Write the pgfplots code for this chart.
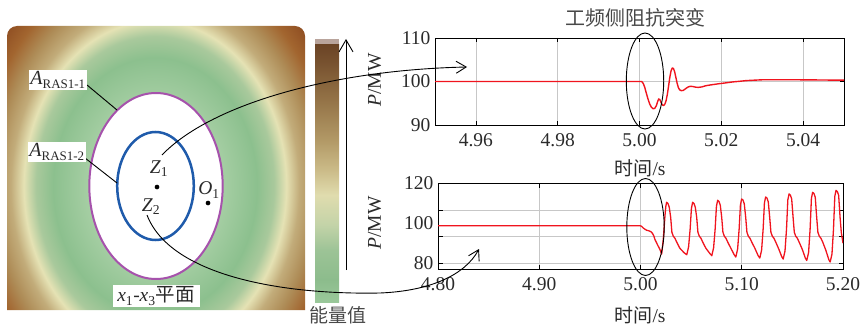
\documentclass[border=0pt]{standalone}
\usepackage{fontspec}
\setmainfont{Liberation Serif}
\newfontfamily\cjk{Noto Sans CJK SC}
\usepackage{pgfplots}
\pgfplotsset{compat=1.18}
\usetikzlibrary{arrows.meta}

\definecolor{eA}{HTML}{B4D8B0}
\definecolor{eB}{HTML}{A5CEA3}
\definecolor{eC}{HTML}{8CC08E}
\definecolor{eD}{HTML}{A9C99C}
\definecolor{eE}{HTML}{E5E2B4}
\definecolor{eF}{HTML}{C2AC7A}
\definecolor{eG}{HTML}{AE8C57}
\definecolor{eH}{HTML}{A2652F}
\definecolor{eI}{HTML}{8C4A20}
\pgfdeclareradialshading{energy}{\pgfpointorigin}{color(0bp)=(eA); color(10bp)=(eB); color(15bp)=(eC); color(17.5bp)=(eD); color(19.3bp)=(eE); color(21.2bp)=(eF); color(23.5bp)=(eG); color(26bp)=(eH); color(29bp)=(eI); color(70bp)=(eI)}

\definecolor{b0}{HTML}{9AC89A}
\definecolor{b1}{HTML}{8CBC8C}
\definecolor{b2}{HTML}{9CC396}
\definecolor{b3}{HTML}{C3D3A8}
\definecolor{b4}{HTML}{E0DCAE}
\definecolor{b5}{HTML}{CBBB88}
\definecolor{b6}{HTML}{B29966}
\definecolor{b7}{HTML}{947347}
\definecolor{b8}{HTML}{76502E}
\definecolor{b9}{HTML}{6B4426}
\pgfdeclareverticalshading{cbar}{100bp}{color(0bp)=(b0); color(25bp)=(b0); color(29.3bp)=(b1); color(35bp)=(b2); color(40bp)=(b3); color(45.8bp)=(b4); color(50.7bp)=(b5); color(56.5bp)=(b6); color(64.3bp)=(b7); color(72bp)=(b8); color(75bp)=(b9); color(100bp)=(b9)}

\definecolor{ellp}{HTML}{A652AC}
\definecolor{ellb}{HTML}{1F5BAB}
\definecolor{tcol}{HTML}{2A2A2A}
\definecolor{ccol}{HTML}{484848}
\definecolor{pred}{HTML}{F0141E}
\definecolor{topband}{HTML}{B9A49C}

\newcommand{\fs}{\fontsize{19.5}{22}\selectfont}

\begin{document}
\begin{tikzpicture}[x=1pt,y=1pt]
\pgfplotsset{/pgf/number format/assume math mode=true}
\coordinate (origin) at (0,0);
\coordinate (topSW) at (435,202);
\coordinate (botSW) at (438,58);
% ---------- left panel background ----------
\begin{scope}[yshift=327pt, yscale=-1]
  \begin{scope}
    \clip (7,310) [rounded corners=10pt] -- (7,26) -- (305,26) [sharp corners] -- (305,310) -- cycle;
    \shade[shading=energy] (-15,-28) rectangle (325,400);
  \end{scope}
  % colorbar
  \fill[fill=topband] (315,39) rectangle (339,45);
  \shade[shading=cbar] (315,45) rectangle (339,302);
  \draw[line width=0.9pt, -{Straight Barb[length=12pt,width=14pt]}] (346,270) -- (346,39);
  % ellipses
  \filldraw[fill=white, draw=ellp, line width=2pt] (156,186) ellipse [x radius=66.7, y radius=93];
  \draw[draw=ellb, line width=2.5pt] (155.5,186) ellipse [x radius=38.3, y radius=54];
  % leader lines
  \draw[line width=0.9pt] (87,85) -- (117,110);
  \draw[line width=0.9pt] (85,158) -- (117,183);
  % labels
  \node[fill=white, inner sep=1.5pt, text=tcol] at (58,80) {\fontsize{20}{22}\selectfont\textit{A}\textsubscript{\fontsize{13}{14}\selectfont RAS1-1}};
  \node[fill=white, inner sep=1.5pt, text=tcol] at (57,152) {\fontsize{20}{22}\selectfont\textit{A}\textsubscript{\fontsize{13}{14}\selectfont RAS1-2}};
  \node[text=tcol] at (159,169) {\fs\textit{Z}\textsubscript{1}};
  \node[text=tcol] at (151,207) {\fs\textit{Z}\textsubscript{2}};
  \node[text=tcol] at (209,190) {\fs\textit{O}\textsubscript{1}};
  \node[fill=white, inner sep=1pt, minimum width=87pt, minimum height=22pt, text=tcol] at (156,296) {\fs\textit{x}\textsubscript{1}-\textit{x}\textsubscript{3}{\cjk 平面}};
  \node[text=ccol] at (338,315) {\fontsize{19}{22}\selectfont\cjk 能量值};
\end{scope}

% ---------- overlay axis for points ----------
\begin{axis}[at={(origin)}, anchor=south west, scale only axis, width=861pt, height=327pt,
  xmin=0, xmax=861, ymin=0, ymax=327, y dir=reverse, hide axis, clip=false]
  \addplot[only marks, mark=*, mark size=2.1pt, black] coordinates {(157,187) (208,203)};
\end{axis}

% ---------- top plot ----------
\begin{axis}[at={(topSW)}, anchor=south west, scale only axis, width=409pt, height=87pt,
  xmin=4.95, xmax=5.05, ymin=90, ymax=110,
  xtick={4.96,4.98,5.00,5.02,5.04}, xticklabels={4.96,4.98,5.00,5.02,5.04},
  ytick={90,100,110}, yticklabels={90,100,110},
  grid=major, grid style={color=black!22, line width=0.6pt},
  tick align=inside, major tick length=4.5pt,
  axis line style={line width=0.8pt, black},
  tick style={line width=0.6pt, black},
  ticklabel style={font=\fs, text=tcol},
  xticklabel style={yshift=-5pt},
  yticklabel style={xshift=-1pt}]
  \addplot[pred, line width=1.4pt, line join=round] coordinates {
  (4.95,100) (5.0005,100) (5.0009,99.6) (5.0013,98.6) (5.0017,97.2) (5.0021,95.9) (5.0025,94.8) (5.0029,94.1) (5.0033,93.75) (5.0037,93.8) (5.0041,94.4) (5.0044,95.3) (5.0047,96.0) (5.0050,95.8) (5.0053,95.1) (5.0056,94.6) (5.0059,94.5) (5.0062,94.8) (5.0065,95.6) (5.0068,97.0) (5.0071,98.9) (5.0074,100.9) (5.0077,102.4) (5.0080,103.1) (5.0083,103.0) (5.0086,102.2) (5.0089,100.9) (5.0092,99.6) (5.0095,98.6) (5.0098,98.1) (5.0102,97.9) (5.0107,97.95) (5.0112,98.3) (5.0118,98.7) (5.0124,98.9) (5.0130,98.85) (5.0137,98.7) (5.0144,98.65) (5.0152,98.75) (5.0163,99.05) (5.0180,99.3) (5.0195,99.5) (5.0212,99.7) (5.0228,99.9) (5.0245,100.05) (5.0260,100.2) (5.0280,100.3) (5.0301,100.4) (5.0382,100.4) (5.05,100.3)};
\end{axis}

% ---------- bottom plot ----------
\begin{axis}[at={(botSW)}, anchor=south west, scale only axis, width=405pt, height=86pt,
  xmin=4.80, xmax=5.20, ymin=77, ymax=120.3,
  xtick={4.80,4.90,5.00,5.10,5.20}, xticklabels={4.80,4.90,5.00,5.10,5.20},
  ytick={80,93.333,106.667,120}, yticklabels={80,,,120},
  extra y ticks={100}, extra y tick labels={100},
  extra y tick style={major tick length=0pt, grid=none},
  grid=major, grid style={color=black!22, line width=0.6pt},
  tick align=inside, major tick length=4.5pt,
  axis line style={line width=0.8pt, black},
  tick style={line width=0.6pt, black},
  ticklabel style={font=\fs, text=tcol},
  xticklabel style={yshift=-5pt},
  yticklabel style={xshift=-1pt}]
  \addplot[pred, line width=1.3pt, line join=round] coordinates {
  (4.80,98.8) (4.9995,98.8) (5.0011,98.5) (5.0028,97.6) (5.0045,97.0) (5.0061,96.5) (5.0078,96.3) (5.0094,96.0) (5.0107,95.6) (5.0120,94.8) (5.0132,93.6) (5.0143,91.8) (5.0170,89) (5.0193,86.7) (5.0209,84.5) (5.0225,92) (5.0242,104) (5.0250,108.5)
  (5.0258,110.6) (5.0271,110.0) (5.0284,108.1) (5.0298,103) (5.0310,95.5) (5.0324,93.5) (5.0340,92.5) (5.0358,90.5) (5.0388,87.5) (5.0430,85.2) (5.0457,84.2) (5.0475,88.2) (5.0490,97) (5.0503,107.6)
  (5.0515,110.6) (5.0528,110.0) (5.0541,108.1) (5.0555,103) (5.0567,95.5) (5.0581,93.5) (5.0597,92.5) (5.0615,90.5) (5.0645,87.5) (5.0685,84.8) (5.0704,83.7) (5.0722,87.7) (5.0737,97) (5.0750,108.6)
  (5.0762,111.6) (5.0775,111.0) (5.0788,109.1) (5.0802,103) (5.0814,95.5) (5.0828,93.5) (5.0844,92.5) (5.0862,90.5) (5.0892,87.5) (5.0925,84.2) (5.0941,83.0) (5.0959,87.0) (5.0974,97) (5.0987,109.3)
  (5.0999,112.3) (5.1012,111.7) (5.1025,109.8) (5.1039,103) (5.1051,95.5) (5.1065,93.5) (5.1081,92.5) (5.1099,90.5) (5.1129,87.5) (5.1162,83.7) (5.1178,82.5) (5.1196,86.5) (5.1211,97) (5.1224,110.3)
  (5.1236,113.3) (5.1249,112.7) (5.1262,110.8) (5.1276,103) (5.1288,95.5) (5.1302,93.5) (5.1318,92.5) (5.1336,90.5) (5.1366,87) (5.1395,83.2) (5.1409,82.0) (5.1427,86) (5.1442,97) (5.1455,111.8)
  (5.1467,114.8) (5.1480,114.2) (5.1493,112.3) (5.1507,103) (5.1519,95.5) (5.1533,93.5) (5.1549,92.5) (5.1567,90.5) (5.1597,87) (5.1628,82.5) (5.1642,81.3) (5.1660,85.3) (5.1675,97) (5.1688,112.6)
  (5.1700,115.6) (5.1713,115.0) (5.1726,113.1) (5.1740,103) (5.1752,95.5) (5.1766,93.5) (5.1782,92.5) (5.1800,90.5) (5.1830,86.5) (5.1860,81.7) (5.1873,80.5) (5.1891,84.5) (5.1906,97) (5.1919,113.6)
  (5.1931,116.6) (5.1944,116.0) (5.1957,114.1) (5.1971,103) (5.1983,95.5) (5.2000,90)};
\end{axis}

% ---------- texts for plots ----------
\node[text=ccol] at (635,309) {\fontsize{20}{22}\selectfont\cjk 工频侧阻抗突变};
\node[text=tcol] at (640,159) {\fs{\cjk\fontsize{19}{22}\selectfont 时间}/s};
\node[text=tcol] at (640,12) {\fs{\cjk\fontsize{19}{22}\selectfont 时间}/s};
\node[text=tcol, rotate=90] at (374.5,247) {\fs\textit{P}/MW};
\node[text=tcol, rotate=90] at (374.5,104) {\fs\textit{P}/MW};

% ---------- overlay curves and ellipses ----------
\begin{scope}[yshift=327pt, yscale=-1]
  \draw[line width=0.9pt] (645,81) ellipse [x radius=18.7, y radius=48];
  \draw[line width=0.9pt] (645.5,227) ellipse [x radius=18.7, y radius=48.5];
  \draw[line width=0.9pt, -{Straight Barb[length=10pt,width=12pt]}] (162,155) .. controls (210,105) and (330,70) .. (467,67);
  \draw[line width=0.9pt, -{Straight Barb[length=10pt,width=12pt]}] (147,215) .. controls (170,275) and (280,295) .. (380,293) .. controls (430,291) and (465,275) .. (479,249);
\end{scope}

\pgfresetboundingbox
\useasboundingbox (0,0) rectangle (861,327);
\end{tikzpicture}
\end{document}
